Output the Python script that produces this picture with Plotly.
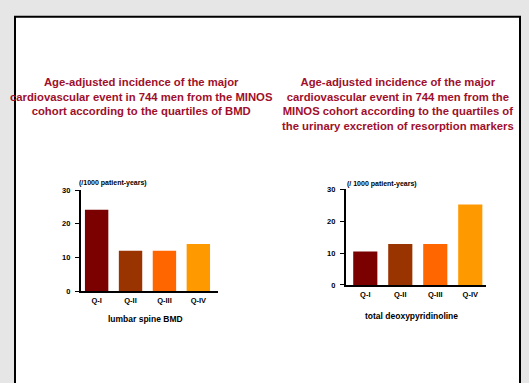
import plotly.graph_objects as go

W, H = 529, 383

quartiles = ["Q-I", "Q-II", "Q-III", "Q-IV"]
bmd_values = [24.2, 12.0, 12.0, 14.0]
dpd_values = [10.5, 12.8, 12.8, 25.2]
bar_colors = ["#7b0000", "#993300", "#ff6600", "#ff9900"]
y_ticks = [0, 10, 20, 30]

title_left = ("Age-adjusted incidence of the major<br>cardiovascular event in 744 men from the MINOS"
              "<br>cohort according to the quartiles of BMD")
title_right = ("Age-adjusted incidence of the major<br>cardiovascular event in 744 men from the"
               "<br>MINOS cohort according to the quartiles of<br>the urinary excretion of resorption markers")
unit_left = "(/1000 patient-years)"
unit_right = "(/ 1000 patient-years)"
xtitle_left = "lumbar spine BMD"
xtitle_right = "total deoxypyridinoline"

FONT = "Liberation Sans, Arial, sans-serif"
TITLE_COLOR = "#a00f2c"

def px_x(v):
    return v / W

def px_y(v):
    return 1 - v / H

fig = go.Figure()
fig.add_trace(go.Bar(x=quartiles, y=bmd_values, marker=dict(color=bar_colors, line=dict(width=0)),
                     xaxis="x", yaxis="y", showlegend=False))
fig.add_trace(go.Bar(x=quartiles, y=dpd_values, marker=dict(color=bar_colors, line=dict(width=0)),
                     xaxis="x2", yaxis="y2", showlegend=False))

axis_common = dict(showgrid=False, zeroline=False, showline=True, linecolor="black", linewidth=1.6)
tickfont = dict(family=FONT, size=7.5, color="black", weight="bold")

fig.update_layout(
    width=W, height=H,
    margin=dict(l=0, r=0, t=0, b=0),
    paper_bgcolor="#e6e6e6",
    plot_bgcolor="rgba(0,0,0,0)",
    bargap=0.31,
    xaxis=dict(domain=[px_x(80.7), px_x(218)], anchor="y", range=[-0.47, 3.58],
               ticks="", ticklabelstandoff=1, tickfont=tickfont, **axis_common),
    yaxis=dict(domain=[px_y(294), px_y(190.7)], anchor="x", range=[0, 30],
               tickvals=y_ticks, ticks="outside", ticklen=4, tickwidth=1.2, tickcolor="black",
               ticklabelstandoff=3, tickfont=tickfont, **axis_common),
    xaxis2=dict(domain=[px_x(345.7), px_x(486)], anchor="y2", range=[-0.56, 3.45],
                ticks="", ticklabelstandoff=1, tickfont=tickfont, **axis_common),
    yaxis2=dict(domain=[px_y(287.7), px_y(189.7)], anchor="x2", range=[0, 30],
                tickvals=y_ticks, ticks="outside", ticklen=4, tickwidth=1.2, tickcolor="black",
                ticklabelstandoff=3, tickfont=tickfont, **axis_common),
    shapes=[dict(type="rect", xref="paper", yref="paper",
                 x0=px_x(15), x1=px_x(520), y0=px_y(400), y1=px_y(13),
                 line=dict(color="black", width=2), fillcolor="white", layer="below")],
)

ann = []
ann.append(dict(text=title_left, x=px_x(141), y=px_y(72), xref="paper", yref="paper",
                xanchor="center", yanchor="top", showarrow=False, align="center",
                font=dict(family=FONT, size=11.3, color=TITLE_COLOR, weight="bold")))
ann.append(dict(text=title_right, x=px_x(398), y=px_y(72), xref="paper", yref="paper",
                xanchor="center", yanchor="top", showarrow=False, align="center",
                font=dict(family=FONT, size=11.3, color=TITLE_COLOR, weight="bold")))
ann.append(dict(text=unit_left, x=px_x(77), y=px_y(183), xref="paper", yref="paper",
                xanchor="left", yanchor="middle", showarrow=False,
                font=dict(family=FONT, size=7, color="black", weight="bold")))
ann.append(dict(text=unit_right, x=px_x(345), y=px_y(184), xref="paper", yref="paper",
                xanchor="left", yanchor="middle", showarrow=False,
                font=dict(family=FONT, size=7, color="black", weight="bold")))
ann.append(dict(text=xtitle_left, x=px_x(145), y=px_y(323), xref="paper", yref="paper",
                xanchor="center", yanchor="middle", showarrow=False,
                font=dict(family=FONT, size=8.5, color="black", weight="bold")))
ann.append(dict(text=xtitle_right, x=px_x(411), y=px_y(319), xref="paper", yref="paper",
                xanchor="center", yanchor="middle", showarrow=False,
                font=dict(family=FONT, size=8.5, color="black", weight="bold")))
fig.update_layout(annotations=ann)

fig.write_html("out.html")
